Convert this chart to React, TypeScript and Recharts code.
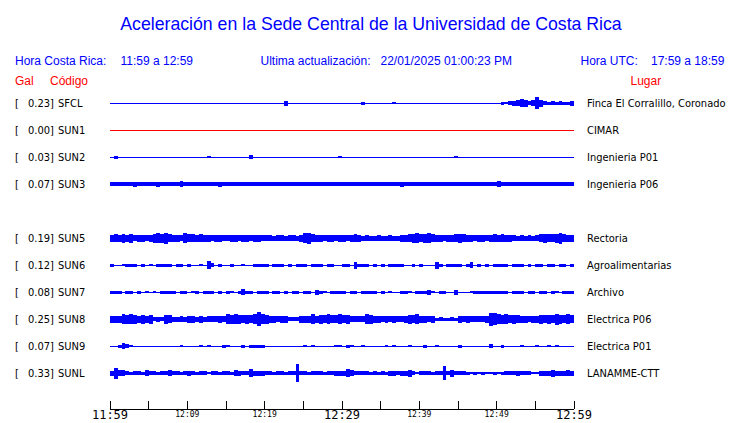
import React from 'react';
import { ComposedChart, Area, XAxis, YAxis, ReferenceLine } from 'recharts';

// ---- axis / labels ----
const minutes = [0, 5, 10, 15, 20, 25, 30, 35, 40, 45, 50, 55, 60];
const tickLabels = ['11:59', '', '12:09', '', '12:19', '', '12:29', '', '12:39', '', '12:49', '', '12:59'];
const majorLabels = ['11:59', '12:29', '12:59'];

// ---- stations ----
const codes = ['SFCL', 'SUN1', 'SUN2', 'SUN3', 'SUN5', 'SUN6', 'SUN7', 'SUN8', 'SUN9', 'SUNL'];
const galValues = ['0.23', '0.00', '0.03', '0.07', '0.19', '0.12', '0.08', '0.25', '0.07', '0.33'];
const places = [
  'Finca El Corralillo, Coronado', 'CIMAR', 'Ingenieria P01', 'Ingenieria P06', 'Rectoria',
  'Agroalimentarias', 'Archivo', 'Electrica P06', 'Electrica P01', 'LANAMME-CTT',
];
const rowPositions = [10, 9, 8, 7, 5, 4, 3, 2, 1, 0];
const traceColors = ['#0000ff', '#ff0000', '#0000ff', '#0000ff', '#0000ff', '#0000ff', '#0000ff', '#0000ff', '#0000ff', '#0000ff'];

// ---- envelope half-heights, one value per 30 s bin (120 bins = 60 min) ----
const BIN = 0.5;
const ampSFCL = [
  0, 0, 0, 0, 0, 0, 0, 0, 0, 0, 0, 0, 0, 0, 0, 0, 0, 0, 0, 0,
  0, 0, 0, 0, 0, 0, 0, 0, 0, 0, 0, 0, 0, 0, 0, 0, 0, 0, 0, 0,
  0, 0, 0, 0, 0, 2.5, 0, 0, 0, 0, 0, 0, 0, 0, 0, 0, 0, 0, 0, 0,
  0, 0, 0, 0, 0, 1.5, 0, 0, 0, 0, 0, 0, 0, 1, 0, 0, 0, 0, 0, 0,
  0, 0, 0, 0, 0, 0, 0, 0, 0, 0, 0, 0, 0, 0, 0, 0, 0, 0, 0, 0,
  0, 1.5, 1, 2, 2.5, 3, 4, 3.5, 2, 3, 6, 3.5, 2, 1.5, 2, 1.5, 2, 1.5, 1.5, 2.5,
];
const ampSUN1: number[] = [];
const ampSUN2 = [
  0, 1.5, 0, 0, 0, 0, 0, 0, 0, 0, 0, 0, 0, 0, 0, 0, 0, 0, 0, 0,
  0, 0, 0, 0, 0, 1, 0, 0, 0, 0, 0, 0, 0, 0, 0, 0, 2, 0, 0, 0,
  0, 0, 0, 0, 0, 0, 0, 0, 0, 0, 0, 0, 0, 0, 0, 0, 0, 0, 0, 1,
  0, 0, 0, 0, 0, 0, 0, 0, 0, 0, 0, 0, 0, 0, 0, 0, 0, 0, 0, 0,
  0, 0, 0, 0, 0, 0, 0, 0, 0, 1, 0, 0, 0, 0, 0, 0, 0, 0, 0, 0,
  0, 0, 0, 0, 0, 0, 0, 0, 0, 0, 0, 0, 0, 0, 0, 0, 0, 0, 0, 0,
];
const ampSUN3 = [
  2, 2, 2, 2, 2, 2, 2.5, 2, 2, 2, 2, 2, 2.5, 2, 2, 2, 2, 2, 3, 2,
  2, 2, 2, 2, 2, 2, 2, 2, 2.5, 2, 2, 2, 2, 2, 2, 2, 2, 2, 2, 2,
  2, 2, 2, 2, 2, 2, 2, 2, 2, 2, 2, 2, 2, 2, 2, 2, 2, 2, 2, 2,
  2, 2, 2, 2, 2, 2, 2, 2, 2, 2, 2, 2, 2, 2, 2, 2.5, 2, 2, 2, 2,
  2, 2, 2, 2, 2, 2, 2, 2, 2, 2, 2, 2, 2, 2, 2, 2, 2, 2, 2, 2,
  3, 2, 2, 2, 2, 2, 2, 2, 2, 2, 2, 2, 2, 2, 2, 2, 2, 2, 2, 2,
];
const ampSUN5 = [
  3.5, 4, 3.5, 4.5, 3.5, 4.5, 3, 3.5, 3.5, 3, 3.5, 4.5, 5, 4.5, 5.5, 4, 3.5, 3.5, 3, 5,
  4, 4, 3.5, 4, 3.5, 3.5, 3, 3.5, 3.5, 3, 3, 3.5, 3.5, 3, 3.5, 3.5, 3, 3.5, 3.5, 3,
  3, 3, 2.5, 3, 3, 2.5, 3, 3, 2.5, 3.5, 5, 5.5, 4, 3.5, 3.5, 3, 3.5, 3.5, 3, 3.5,
  3.5, 3, 3.5, 4, 3.5, 2.5, 3, 2.5, 2.5, 3, 2.5, 2.5, 3, 2.5, 2.5, 3.5, 3.5, 4, 4.5, 5,
  4, 4.5, 5, 4, 3.5, 3.5, 3, 3.5, 3.5, 4, 4.5, 4, 3.5, 3.5, 3, 3.5, 3.5, 3, 3.5, 4,
  3.5, 4, 3.5, 3.5, 3, 2.5, 3, 2.5, 3, 2.5, 3, 4, 4.5, 4, 4, 4.5, 5.5, 4, 3.5, 3.5,
];
const ampSUN6 = [
  1.5, 0, 0, 1, 1.5, 1.5, 1.5, 0, 1.5, 0, 1, 0, 1.5, 1.5, 1.5, 1.5, 0, 1.5, 1.5, 0,
  1.5, 0, 0, 1, 0, 4, 2, 0, 1.5, 0, 0, 1.5, 0, 0, 1, 0, 0, 1.5, 1.5, 1.5,
  1.5, 0, 1.5, 1.5, 1.5, 0, 1.5, 0, 1.5, 1.5, 1.5, 0, 1.5, 1.5, 1.5, 0, 1.5, 1.5, 0, 0,
  1.5, 1.5, 0, 3.5, 1.5, 1.5, 1.5, 0, 1.5, 0, 1.5, 0, 1.5, 1.5, 1.5, 1.5, 0, 0, 1.5, 0,
  1.5, 0, 0, 0, 3.5, 1.5, 0, 1.5, 1.5, 1.5, 1.5, 0, 1.5, 3, 0, 1.5, 0, 1.5, 0, 1.5,
  1.5, 1.5, 1.5, 0, 1.5, 1.5, 1.5, 0, 1.5, 0, 1.5, 1.5, 0, 1.5, 1.5, 0, 1.5, 1.5, 0, 1.5,
];
const ampSUN7 = [
  1.5, 1.5, 1.5, 0, 1.5, 1.5, 0, 1.5, 0, 1, 0, 1, 0, 1.5, 1.5, 1.5, 1.5, 0, 1.5, 1.5,
  0, 1, 1.5, 0, 1.5, 1.5, 1.5, 0, 1.5, 0, 1.5, 1, 0, 1.5, 3, 1.5, 1.5, 0, 1.5, 1.5,
  1.5, 0, 1.5, 1.5, 0, 1.5, 0, 1.5, 1.5, 0, 1.5, 1.5, 0, 2.5, 1.5, 1, 0, 1.5, 1.5, 1.5,
  1.5, 0, 1.5, 1.5, 0, 1.5, 1.5, 1.5, 1.5, 0, 1.5, 0, 1, 0, 0, 1.5, 1.5, 1, 0, 1.5,
  1.5, 1.5, 2.5, 1, 0, 1.5, 1.5, 0, 0, 2.5, 0, 0, 0, 1, 1.5, 1.5, 1.5, 1.5, 1.5, 1.5,
  1.5, 1.5, 1.5, 0, 1.5, 1.5, 1.5, 0, 1.5, 1.5, 0, 1.5, 1.5, 0, 1.5, 1, 0, 1.5, 1.5, 1.5,
];
const ampSUN8 = [
  3.5, 3.5, 3.5, 5, 4.5, 5, 4.5, 3.5, 4.5, 3.5, 4.5, 2, 2.5, 2, 4.5, 4, 2.5, 2.5, 3, 2.5,
  3.5, 3.5, 2.5, 3.5, 2.5, 3, 3, 3, 3.5, 3, 5, 4.5, 5, 4.5, 4, 4.5, 4, 5, 7, 5,
  4.5, 3.5, 3.5, 3, 3.5, 3.5, 2, 2, 2, 3.5, 3.5, 3.5, 5, 3.5, 4.5, 4, 5, 4, 4, 5,
  4, 4.5, 3, 3, 3, 3, 5, 4.5, 3.5, 3.5, 3, 3.5, 3, 3.5, 3, 3, 3.5, 4.5, 4, 5,
  3.5, 3.5, 3, 3.5, 1.5, 2, 1.5, 1.5, 2, 1.5, 3.5, 3, 3.5, 3, 3, 3, 3, 3.5, 6.5, 6,
  5, 4.5, 5, 4, 4.5, 4, 3.5, 3.5, 3, 3.5, 3.5, 4.5, 4, 4.5, 4, 5.5, 4.5, 4, 5, 4,
];
const ampSUN9 = [
  0, 0, 1.5, 3, 2, 1, 0, 0, 0, 0, 0, 0, 0, 0, 0, 0, 0, 0, 1, 0,
  0, 0, 0, 1, 0, 1, 0, 0, 0, 1.5, 1, 0, 0, 0, 1.5, 0, 1.5, 1.5, 1.5, 1.5,
  0, 0, 0, 0, 0, 0, 0, 0, 0, 0, 1, 0, 1, 0, 0, 0, 0, 0, 1, 1,
  0, 1.5, 1, 0, 0, 1, 0, 0, 0, 0, 0, 1, 0, 1, 0, 0, 0, 1, 0, 0,
  0, 1.5, 0, 0, 1, 0, 0, 0, 0, 0, 1.5, 0, 0, 0, 0, 0, 0, 0, 2, 0,
  0, 1.5, 0, 0, 0, 0, 1, 0, 0, 0, 1, 0, 0, 1, 0, 1, 0, 0, 0, 0,
];
const ampSUNL = [
  2.5, 5.5, 3, 3, 2, 1.5, 2, 2, 1.5, 3, 2, 2, 1.5, 2, 2, 3, 2, 2, 1.5, 2,
  2.5, 2, 1.5, 2, 2, 1, 2, 2, 1.5, 2, 2, 1.5, 3, 2.5, 2, 2, 4, 2.5, 2.5, 2.5,
  2, 2, 1.5, 2, 2, 1.5, 2, 2, 9, 2, 2, 1.5, 2, 2, 2, 1.5, 2, 2, 2.5, 2.5,
  2.5, 4, 3, 2, 2, 2, 2, 1.5, 2, 1.5, 2, 1.5, 2.5, 2.5, 2, 2.5, 2.5, 3.5, 2, 1,
  2, 2, 2, 1.5, 2, 2, 7, 2, 3.5, 2, 2, 2, 1.5, 1, 1.5, 1, 1.5, 1, 1, 1.5,
  1, 1.5, 2, 2, 2, 2.5, 2, 2, 2, 1, 1, 2.5, 2.5, 2.5, 3.5, 2.5, 2.5, 2.5, 3, 2.5,
];
const amplitudes = [ampSFCL, ampSUN1, ampSUN2, ampSUN3, ampSUN5, ampSUN6, ampSUN7, ampSUN8, ampSUN9, ampSUNL];

// ---- layout ----
const W = 740;
const H = 423;
const ROW_PX = 27; // pixels per row unit
const Y_DOMAIN: [number, number] = [-36 / ROW_PX, 10 + 14 / ROW_PX];
const BLUE = '#0000ff';
const RED = '#ff0000';
const HEAD_FONT = "'Liberation Sans', Arial, sans-serif";
const LABEL_FONT = "'DejaVu Sans Condensed', 'DejaVu Sans', sans-serif";

const traceData = amplitudes.map((amps, k) => {
  const c = rowPositions[k];
  const pts = amps.map((a, i) => ({ t: i * BIN, r: [c - a / ROW_PX, c + a / ROW_PX] }));
  if (pts.length) pts.push({ t: amps.length * BIN, r: pts[pts.length - 1].r });
  return pts;
});

const XTick = (props: any) => {
  const { x, y, payload } = props;
  const idx = minutes.indexOf(payload.value);
  const label = idx >= 0 ? tickLabels[idx] : '';
  const major = majorLabels.includes(label);
  return (
    <g>
      <line x1={x} x2={x} y1={y - 8} y2={y} stroke="#000" shapeRendering="crispEdges" />
      {label ? (
        <text x={x} y={major ? y + 10 : y + 8} textAnchor="middle" fontFamily="'DejaVu Sans Mono', monospace" fontSize={major ? 12 : 8} fill="#000">
          {label}
        </text>
      ) : null}
    </g>
  );
};

const LeftTick = (props: any) => {
  const { y, payload } = props;
  const i = rowPositions.indexOf(payload.value);
  if (i < 0) return null;
  return (
    <text y={y + 4} fontFamily={LABEL_FONT} fontSize={11} fill="#000">
      <tspan x={15}>[</tspan>
      <tspan x={28}>{galValues[i]}]</tspan>
      <tspan x={58}>{codes[i]}</tspan>
    </text>
  );
};

const RightTick = (props: any) => {
  const { y, payload } = props;
  const i = rowPositions.indexOf(payload.value);
  if (i < 0) return null;
  return (
    <text x={587} y={y + 4} fontFamily={LABEL_FONT} fontSize={11} fill="#000">
      {places[i]}
    </text>
  );
};

export default function App() {
  return (
    <div style={{ position: 'absolute', left: 0, top: 0, width: W, height: H, background: '#fff' }}>
      <ComposedChart width={W} height={H} margin={{ top: 89, right: 0, bottom: 0, left: 0 }}>
        <XAxis
          type="number"
          dataKey="t"
          domain={[0, 60]}
          allowDataOverflow
          ticks={minutes}
          interval={0}
          tick={<XTick />}
          tickLine={false}
          tickSize={0}
          tickMargin={0}
          height={14}
          axisLine={{ stroke: '#000', shapeRendering: 'crispEdges' }}
        />
        <YAxis
          yAxisId="left"
          type="number"
          domain={Y_DOMAIN}
          allowDataOverflow
          ticks={rowPositions}
          interval={0}
          tick={<LeftTick />}
          axisLine={false}
          tickLine={false}
          width={110}
        />
        <YAxis
          yAxisId="right"
          orientation="right"
          type="number"
          domain={Y_DOMAIN}
          allowDataOverflow
          ticks={rowPositions}
          interval={0}
          tick={<RightTick />}
          axisLine={false}
          tickLine={false}
          width={166}
        />
        {rowPositions.map((c, k) => (
          <ReferenceLine key={'base' + k} yAxisId="left" y={c} stroke={traceColors[k]} strokeWidth={1} shapeRendering="crispEdges" />
        ))}
        {traceData.map((d, k) =>
          d.length ? (
            <Area
              key={codes[k]}
              yAxisId="left"
              data={d}
              dataKey="r"
              type="stepAfter"
              stroke="none"
              fill={traceColors[k]}
              fillOpacity={1}
              dot={false}
              activeDot={false}
              isAnimationActive={false}
              shapeRendering="crispEdges"
            />
          ) : null
        )}
      </ComposedChart>
      <svg width={W} height={90} style={{ position: 'absolute', left: 0, top: 0, pointerEvents: 'none' }}>
        <text x={371} y={30} textAnchor="middle" fontFamily={HEAD_FONT} fontSize={17.7} fill={BLUE}>
          Aceleración en la Sede Central de la Universidad de Costa Rica
        </text>
        <g fontFamily={HEAD_FONT} fontSize={12} fill={BLUE}>
          <text x={15} y={65}>Hora Costa Rica:</text>
          <text x={120.5} y={65}>11:59 a 12:59</text>
          <text x={260.5} y={65}>Ultima actualización:</text>
          <text x={380.5} y={65}>22/01/2025 01:00:23 PM</text>
          <text x={580.5} y={65}>Hora UTC:</text>
          <text x={651} y={65}>17:59 a 18:59</text>
        </g>
        <g fontFamily={HEAD_FONT} fontSize={12} fill={RED}>
          <text x={15} y={85}>Gal</text>
          <text x={50} y={85}>Código</text>
          <text x={630.5} y={85}>Lugar</text>
        </g>
      </svg>
    </div>
  );
}
